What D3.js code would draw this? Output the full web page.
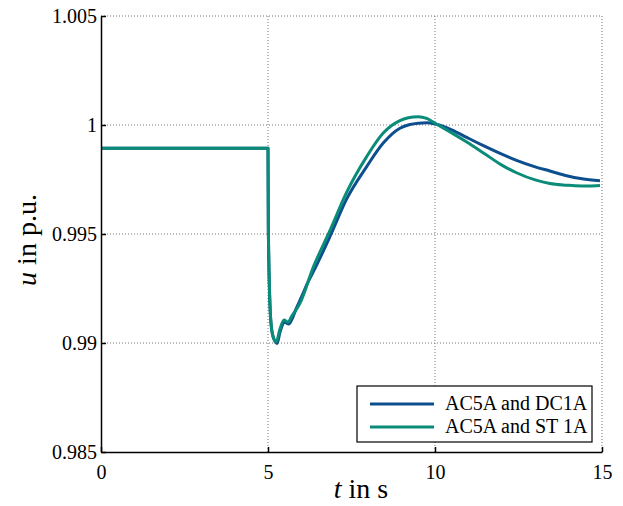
<!DOCTYPE html>
<html>
<head>
<meta charset="utf-8">
<script src="https://cdn.jsdelivr.net/npm/d3@7"></script>
<style>
  body { margin: 0; background: #fff; }
  svg text { font-family: "Liberation Serif", "Times New Roman", Times, serif; fill: #000; }
</style>
</head>
<body>
<div id="chart"></div>
<script>
// time (s) and voltage (p.u.)
const tBlue = [0, 4.99, 5, 5.01, 5.08, 5.15, 5.27, 5.36, 5.5, 5.62, 5.72, 5.85, 6.0, 6.2, 6.4, 6.86, 7.36, 7.95, 8.45, 8.95, 9.25, 9.5, 9.75, 10.0, 10.5, 10.95, 11.45, 12.0, 12.44, 13.0, 13.44, 13.94, 14.4, 14.94];
const uBlue = [0.99893, 0.99893, 0.99893, 0.9952, 0.9911, 0.9903, 0.98998, 0.9905, 0.99095, 0.99087, 0.9911, 0.9916, 0.9921, 0.9928, 0.9934, 0.9949, 0.99662, 0.99808, 0.99917, 0.99985, 1.00002, 1.00008, 1.0001, 1.00005, 0.99978, 0.99943, 0.99905, 0.99866, 0.99838, 0.99808, 0.99789, 0.99767, 0.99753, 0.99744];

const tGreen = [0, 4.99, 5, 5.01, 5.08, 5.15, 5.25, 5.35, 5.48, 5.6, 5.7, 5.96, 6.36, 6.86, 7.36, 7.95, 8.45, 8.95, 9.2, 9.5, 9.75, 10.0, 10.5, 10.95, 11.45, 12.0, 12.44, 13.0, 13.44, 13.94, 14.2, 14.6, 14.94];
const uGreen = [0.99893, 0.99893, 0.99893, 0.9952, 0.9911, 0.9903, 0.99005, 0.9906, 0.99105, 0.99095, 0.9912, 0.99183, 0.99349, 0.99518, 0.99693, 0.99854, 0.99963, 1.0002, 1.00033, 1.00038, 1.0003, 1.00008, 0.99964, 0.99922, 0.99872, 0.99816, 0.99781, 0.99748, 0.99732, 0.99724, 0.99721, 0.9972, 0.99722];

const seriesNames = ["AC5A and DC1A", "AC5A and ST 1A"];
const seriesColors = ["#0d4f8e", "#0a8c78"];
const xTicks = [0, 5, 10, 15];
const yTicks = [0.985, 0.99, 0.995, 1, 1.005];
const yTickLabels = ["0.985", "0.99", "0.995", "1", "1.005"];

const W = 623, H = 506;
const margin = { top: 16, right: 21, bottom: 54, left: 101 };
const w = W - margin.left - margin.right;
const h = H - margin.top - margin.bottom;

const svg = d3.select("#chart").append("svg")
  .attr("width", W)
  .attr("height", H);

const g = svg.append("g")
  .attr("transform", `translate(${margin.left},${margin.top})`);

const x = d3.scaleLinear().domain([0, 15]).range([0, w]);
const y = d3.scaleLinear().domain([0.985, 1.005]).range([h, 0]);

// grid
g.append("g").selectAll("line")
  .data(xTicks.slice(1))
  .enter().append("line")
  .attr("x1", d => x(d)).attr("x2", d => x(d))
  .attr("y1", 0).attr("y2", h)
  .attr("stroke", "#777").attr("stroke-width", 1)
  .attr("stroke-dasharray", "1,2");

g.append("g").selectAll("line")
  .data(yTicks.slice(1))
  .enter().append("line")
  .attr("x1", 0).attr("x2", w)
  .attr("y1", d => y(d)).attr("y2", d => y(d))
  .attr("stroke", "#777").attr("stroke-width", 1)
  .attr("stroke-dasharray", "1,2");

// lines
const line = d3.line()
  .x(d => x(d[0]))
  .y(d => y(d[1]))
  .curve(d3.curveMonotoneX);

const blueData = tBlue.map((t, i) => [t, uBlue[i]]);
const greenData = tGreen.map((t, i) => [t, uGreen[i]]);

[blueData, greenData].forEach((data, i) => {
  g.append("path")
    .datum(data)
    .attr("fill", "none")
    .attr("stroke", seriesColors[i])
    .attr("stroke-width", 3)
    .attr("stroke-linejoin", "round")
    .attr("d", line);
});

// axes
const xAxis = d3.axisBottom(x).tickValues(xTicks).tickSizeInner(-5).tickSizeOuter(0).tickPadding(13);
const yAxis = d3.axisLeft(y).tickValues(yTicks).tickFormat((d, i) => yTickLabels[i]).tickSizeInner(-5).tickSizeOuter(0).tickPadding(4);

const gx = g.append("g")
  .attr("transform", `translate(0,${h})`)
  .call(xAxis);
const gy = g.append("g").call(yAxis);

[gx, gy].forEach(a => {
  a.attr("font-family", null);
  a.select(".domain").attr("stroke", "#000").attr("stroke-width", 1.5);
  a.selectAll(".tick line").attr("stroke", "#000").attr("stroke-width", 1.5);
  a.selectAll("text").style("font-size", "20px").attr("fill", "#000");
});

// axis titles
const xt = svg.append("text")
  .attr("x", 361)
  .attr("y", 498)
  .attr("text-anchor", "middle")
  .style("font-size", "28px");
xt.append("tspan").style("font-style", "italic").text("t");
xt.append("tspan").text(" in s");

const yt = svg.append("text")
  .attr("transform", `translate(36,240) rotate(-90)`)
  .attr("text-anchor", "middle")
  .style("font-size", "28px");
yt.append("tspan").style("font-style", "italic").text("u");
yt.append("tspan").text(" in p.u.");

// legend
const lg = svg.append("g").attr("transform", "translate(357,386)");
lg.append("rect")
  .attr("width", 235).attr("height", 56)
  .attr("fill", "#fff").attr("stroke", "#000").attr("stroke-width", 1.2);

seriesNames.forEach((name, i) => {
  const ly = 18 + i * 23;
  lg.append("line")
    .attr("x1", 13).attr("x2", 77)
    .attr("y1", ly).attr("y2", ly)
    .attr("stroke", seriesColors[i]).attr("stroke-width", 3);
  lg.append("text")
    .attr("x", 88).attr("y", ly + 6)
    .style("font-size", "20px")
    .text(name);
});
</script>
</body>
</html>
